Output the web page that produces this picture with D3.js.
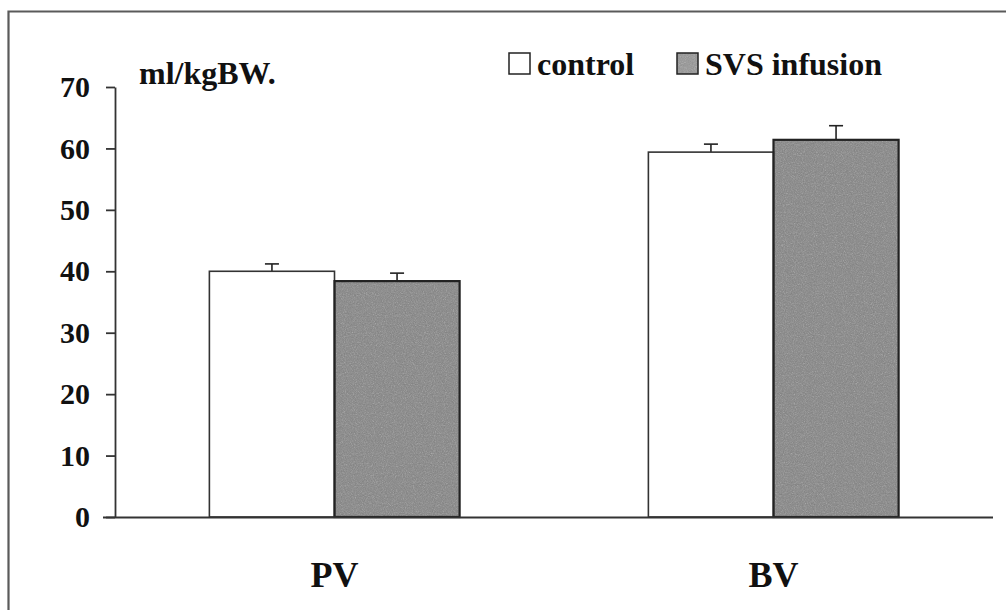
<!DOCTYPE html>
<html>
<head>
<meta charset="utf-8">
<script src="https://cdn.jsdelivr.net/npm/d3@7"></script>
<style>
  html, body { margin: 0; padding: 0; background: #fff; }
  svg { display: block; }
  svg text { font-family: "Liberation Serif", "Times New Roman", serif; font-weight: bold; }
</style>
</head>
<body>
<div id="chart"></div>
<script>
// data
const categories = ['PV', 'BV'];
const seriesNames = ['control', 'SVS infusion'];
const controlMeans = [40.0, 59.4];
const controlErrors = [1.2, 1.3];
const svsMeans = [38.4, 61.4];
const svsErrors = [1.3, 2.3];
const yTicks = [0, 10, 20, 30, 40, 50, 60, 70];
const unitLabel = 'ml/kgBW.';

const W = 1006, H = 610;
const serif = '"Liberation Serif", "Times New Roman", serif';
const svg = d3.select('#chart').append('svg')
  .attr('width', W).attr('height', H);

// noise filter for the grainy grey bars
const defs = svg.append('defs');
const f = defs.append('filter').attr('id', 'grain')
  .attr('x', 0).attr('y', 0).attr('width', 1).attr('height', 1);
f.append('feTurbulence').attr('type', 'fractalNoise')
  .attr('baseFrequency', 0.9).attr('numOctaves', 2).attr('seed', 4).attr('result', 'noise');
f.append('feColorMatrix').attr('in', 'noise').attr('type', 'saturate').attr('values', 0).attr('result', 'gnoise');
f.append('feComposite').attr('in', 'SourceGraphic').attr('in2', 'gnoise')
  .attr('operator', 'arithmetic').attr('k1', 0).attr('k2', 1).attr('k3', 0.35).attr('k4', -0.15)
  .attr('result', 'mix');
f.append('feComposite').attr('in', 'mix').attr('in2', 'SourceGraphic').attr('operator', 'in');

// outer frame (runs off the right and bottom edges like the scan)
svg.append('path')
  .attr('d', `M8.5,${H + 5} L8.5,11.5 L${W + 5},11.5`)
  .attr('fill', 'none').attr('stroke', '#5a5a5a').attr('stroke-width', 2.2);

const x0 = 115, x1 = 993, yTop = 87, yBase = 517;

const x = d3.scaleBand()
  .domain(categories)
  .range([x0, x1])
  .paddingInner(0.43)
  .paddingOuter(0.215);

const xs = d3.scaleBand()
  .domain(seriesNames)
  .range([0, x.bandwidth()]);

const y = d3.scaleLinear()
  .domain([0, 70])
  .range([yBase, yTop]);

const rows = categories.map((c, i) => [
  { cat: c, s: seriesNames[0], v: controlMeans[i], e: controlErrors[i] },
  { cat: c, s: seriesNames[1], v: svsMeans[i], e: svsErrors[i] }
]).flat();

// error bars (drawn first, bars cover the lower part)
const cap = 7;
const eb = svg.append('g').attr('stroke', '#222').attr('stroke-width', 1.6);
eb.selectAll('line.v').data(rows).join('line').attr('class', 'v')
  .attr('x1', d => x(d.cat) + xs(d.s) + xs.bandwidth() / 2)
  .attr('x2', d => x(d.cat) + xs(d.s) + xs.bandwidth() / 2)
  .attr('y1', d => y(d.v)).attr('y2', d => y(d.v + d.e));
eb.selectAll('line.c').data(rows).join('line').attr('class', 'c')
  .attr('x1', d => x(d.cat) + xs(d.s) + xs.bandwidth() / 2 - cap)
  .attr('x2', d => x(d.cat) + xs(d.s) + xs.bandwidth() / 2 + cap)
  .attr('y1', d => y(d.v + d.e)).attr('y2', d => y(d.v + d.e));

// bar fills
svg.append('g').selectAll('rect').data(rows).join('rect')
  .attr('x', d => x(d.cat) + xs(d.s))
  .attr('y', d => y(d.v))
  .attr('width', xs.bandwidth())
  .attr('height', d => y(0) - y(d.v))
  .attr('fill', d => d.s === 'control' ? '#ffffff' : '#9c9c9c')
  .attr('filter', d => d.s === 'control' ? null : 'url(#grain)');

// bar outlines
svg.append('g').selectAll('rect').data(rows).join('rect')
  .attr('x', d => x(d.cat) + xs(d.s))
  .attr('y', d => y(d.v))
  .attr('width', xs.bandwidth())
  .attr('height', d => y(0) - y(d.v))
  .attr('fill', 'none')
  .attr('stroke', d => d.s === 'control' ? '#333' : '#222')
  .attr('stroke-width', d => d.s === 'control' ? 1.6 : 2.2);

// y axis
const yAxis = svg.append('g')
  .attr('transform', `translate(${x0},0)`)
  .call(d3.axisLeft(y).tickValues(yTicks).tickSize(9).tickSizeOuter(0).tickPadding(16));
yAxis.attr('font-family', serif);
yAxis.select('.domain').attr('stroke', '#333').attr('stroke-width', 1.8);
yAxis.selectAll('.tick line').attr('stroke', '#333').attr('stroke-width', 1.8);
yAxis.selectAll('text')
  .attr('fill', '#111')
  .style('font-size', '30px');

// x axis
const xAxis = svg.append('g')
  .attr('transform', `translate(0,${yBase})`)
  .call(d3.axisBottom(x).tickSize(0).tickSizeOuter(0).tickPadding(44));
xAxis.attr('font-family', serif);
xAxis.select('.domain')
  .attr('d', `M${x0 - 12},0.5H${x1}`)
  .attr('stroke', '#333').attr('stroke-width', 1.8);
xAxis.selectAll('text')
  .attr('fill', '#111')
  .style('font-size', '36px');

// unit label
svg.append('text')
  .attr('x', 139).attr('y', 84)
  .attr('fill', '#111')
  .style('font-size', '32px')
  .text(unitLabel);

// legend
const legendX = [509, 677];
const legend = svg.append('g');
seriesNames.forEach((s, i) => {
  legend.append('rect')
    .attr('x', legendX[i]).attr('y', 53)
    .attr('width', 21).attr('height', 21)
    .attr('fill', i === 0 ? '#ffffff' : '#a8a8a8')
    .attr('filter', i === 0 ? null : 'url(#grain)');
  legend.append('rect')
    .attr('x', legendX[i]).attr('y', 53)
    .attr('width', 21).attr('height', 21)
    .attr('fill', 'none').attr('stroke', '#222').attr('stroke-width', 1.5);
  legend.append('text')
    .attr('x', legendX[i] + 28).attr('y', 75)
    .attr('fill', '#111')
    .style('font-size', '32px')
    .text(s);
});
</script>
</body>
</html>
